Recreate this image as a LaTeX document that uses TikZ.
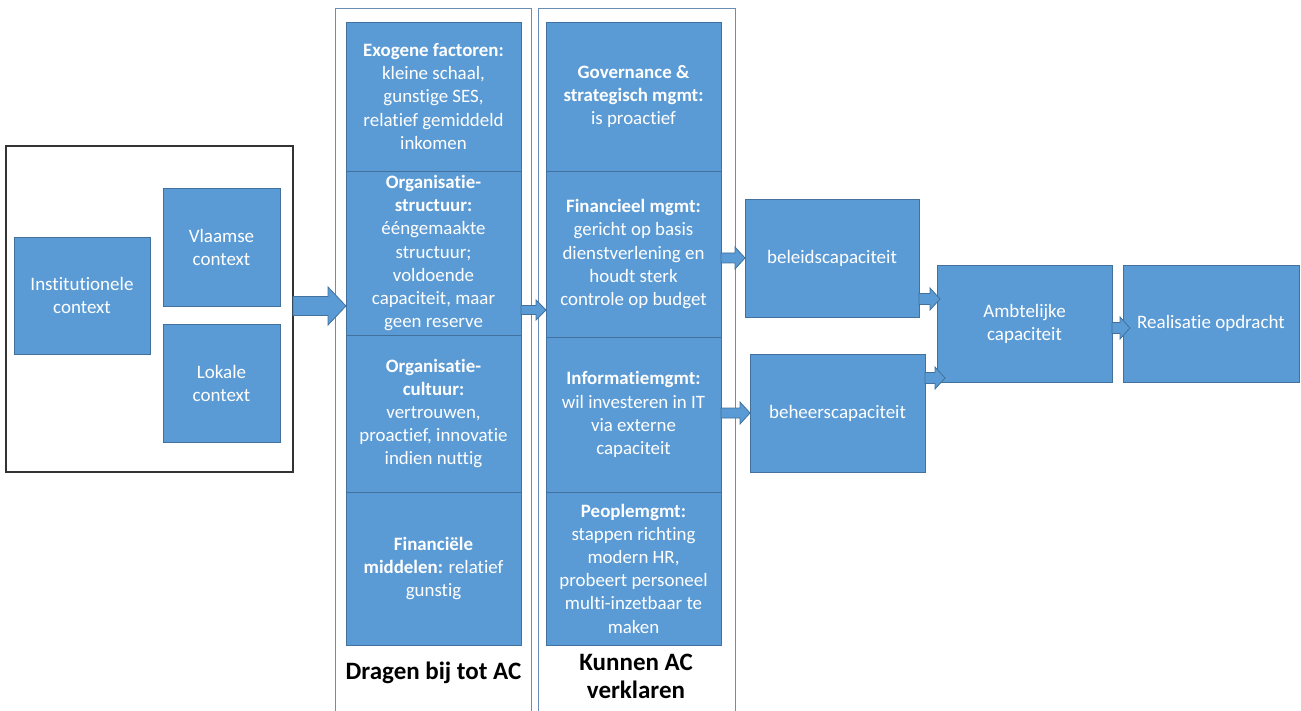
\documentclass[tikz,border=0pt]{standalone}
\usepackage{fontspec}
\setmainfont{Carlito}[Ligatures=NoCommon]
\usetikzlibrary{calc}
\definecolor{boxblue}{HTML}{5B9BD5}
\definecolor{boxedge}{HTML}{41719C}
\definecolor{framecol}{HTML}{6A8DB8}
\tikzset{
 bx/.style={draw=boxedge, fill=boxblue, line width=0.8pt, text=white, align=center, inner sep=2pt, outer sep=0pt, font=\fontsize{19}{23}\selectfont},
 colbox/.style={bx, minimum width=175pt, font=\fontsize{18.9}{23.2}\selectfont},
 barrow/.style={draw=boxedge, fill=boxblue, line width=0.8pt, line join=miter},
 frame/.style={draw=framecol, line width=0.9pt, outer sep=0pt, inner sep=0pt},
 ctxframe/.style={draw=black!80, line width=1.1pt, outer sep=0pt, inner sep=0pt},
 lbl/.style={font=\fontsize{25}{28}\selectfont\bfseries, align=center, text=black}
}
\newcommand\blockarrow[5]{%
 \filldraw[barrow] let \p1=#1, \p2=#2 in
 ({\x1},{\y1-#3}) -- ({\x2-#5},{\y1-#3}) -- ({\x2-#5},{\y1-#4}) -- ({\x2},{\y1}) -- ({\x2-#5},{\y1+#4}) -- ({\x2-#5},{\y1+#3}) -- ({\x1},{\y1+#3}) -- cycle;}
\begin{document}
\begin{tikzpicture}[x=1pt,y=-1pt]
\useasboundingbox (0,0) rectangle (1301,711);
% frames
\node[ctxframe, minimum width=287pt, minimum height=326pt] (ctx) at (149.5,309) {};
\node[frame, minimum width=196pt, minimum height=712pt] (fr1) at (433,364) {};
\node[frame, minimum width=197pt, minimum height=712pt] (fr2) at (636.5,364) {};
% context boxes
\node[bx, minimum width=136pt, minimum height=117pt] (inst) at (82,295.5) {Institutionele\\context};
\node[bx, minimum width=117pt, minimum height=118pt] (vla) at (221.5,247) {Vlaamse\\context};
\node[bx, minimum width=117pt, minimum height=118pt] (lok) at (221.5,383) {Lokale\\context};
% column 1
\node[colbox, minimum height=149pt] (e1) at (433.5,96.5) {\textbf{Exogene factoren:}\\kleine schaal,\\gunstige SES,\\relatief gemiddeld\\inkomen};
\node[colbox, minimum height=164pt] (s1) at (433.5,253) {\textbf{Organisatie-}\\\textbf{structuur:}\\ééngemaakte\\structuur;\\voldoende\\capaciteit, maar\\geen reserve};
\node[colbox, minimum height=157pt] (c1) at (433.5,413.5) {\textbf{Organisatie-}\\\textbf{cultuur:}\\vertrouwen,\\proactief, innovatie\\indien nuttig};
\node[colbox, minimum height=153pt] (f1) at (433.5,568.5) {\textbf{Financiële}\\\textbf{middelen:} relatief\\gunstig};
% column 2
\node[colbox, minimum height=149pt] (g2) at (633.5,96.5) {\textbf{Governance \&}\\\textbf{strategisch mgmt:}\\is proactief};
\node[colbox, minimum height=166pt] (m2) at (633.5,254) {\textbf{Financieel mgmt:}\\gericht op basis\\dienstverlening en\\houdt sterk\\controle op budget};
\node[colbox, minimum height=155pt] (i2) at (633.5,414.5) {\textbf{Informatiemgmt:}\\wil investeren in IT\\via externe\\capaciteit};
\node[colbox, minimum height=153pt] (p2) at (633.5,568.5) {\textbf{Peoplemgmt:}\\stappen richting\\modern HR,\\probeert personeel\\multi-inzetbaar te\\maken};
% right side
\node[bx, minimum width=174pt, minimum height=118pt] (bel) at (832,258) {beleidscapaciteit};
\node[bx, minimum width=175pt, minimum height=118pt] (beh) at (837.5,413) {beheerscapaciteit};
\node[bx, minimum width=175pt, minimum height=117pt] (amb) at (1024.5,323.5) {Ambtelijke\\capaciteit};
\node[bx, minimum width=176pt, minimum height=117pt] (real) at (1211,323.5) {Realisatie opdracht};
% labels
\node[lbl] (lbl1) at (433.5,673) {Dragen bij tot AC};
\node[lbl] (lbl2) at (636,676) {Kunnen AC\\verklaren};
% helper coordinates for arrow heights
\coordinate (yA) at (0,306);
\coordinate (yB) at (0,310);
\coordinate (yC) at (0,299);
\coordinate (yD) at (0,378);
\coordinate (yE) at (0,328);
% arrows
\blockarrow{(ctx.east |- yA)}{(s1.west)}{9.5pt}{19pt}{18pt}
\blockarrow{(s1.east |- yB)}{(m2.west)}{4.5pt}{10pt}{10pt}
\blockarrow{(m2.east |- bel)}{(bel.west)}{5pt}{11pt}{10pt}
\blockarrow{(i2.east |- beh)}{(beh.west)}{5pt}{11pt}{10pt}
\blockarrow{(bel.east |- yC)}{($(amb.west)+(3,0)$)}{5.5pt}{11pt}{10pt}
\blockarrow{(beh.east |- yD)}{($(amb.west)+(8,0)$)}{5.5pt}{11pt}{10pt}
\blockarrow{(amb.east |- yE)}{($(real.west)+(7,0)$)}{5.5pt}{11pt}{10pt}
\end{tikzpicture}
\end{document}
